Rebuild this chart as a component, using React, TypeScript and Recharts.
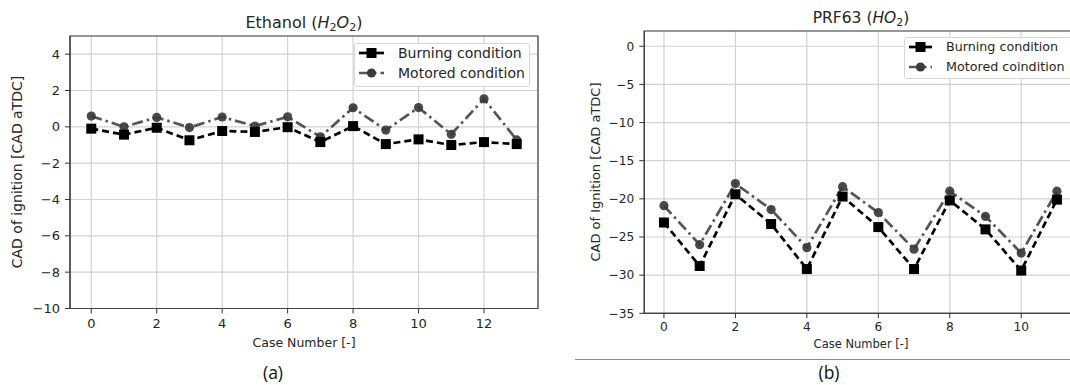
import React from 'react';
import { LineChart, Line, XAxis, YAxis, CartesianGrid, Legend, ReferenceArea } from 'recharts';

const FONT = '"DejaVu Sans", sans-serif';

// ---- Panel (a): Ethanol (H2O2) ----
const casesA = [0, 1, 2, 3, 4, 5, 6, 7, 8, 9, 10, 11, 12, 13];
const burningA = [-0.1, -0.43, -0.05, -0.74, -0.23, -0.28, -0.02, -0.84, 0.04, -0.95, -0.69, -1.0, -0.84, -0.95];
const motoredA = [0.59, 0.0, 0.52, -0.04, 0.54, 0.04, 0.55, -0.55, 1.05, -0.18, 1.06, -0.41, 1.54, -0.72];
const xTicksA = [0, 2, 4, 6, 8, 10, 12];
const yTicksA = [-10, -8, -6, -4, -2, 0, 2, 4];

// ---- Panel (b): PRF63 (HO2) ----
const casesB = [0, 1, 2, 3, 4, 5, 6, 7, 8, 9, 10, 11];
const burningB = [-23.1, -28.8, -19.4, -23.3, -29.2, -19.7, -23.7, -29.2, -20.2, -24.0, -29.4, -20.1];
const motoredB = [-20.9, -26.0, -18.0, -21.4, -26.4, -18.4, -21.8, -26.6, -19.0, -22.3, -27.1, -19.0];
const xTicksB = [0, 2, 4, 6, 8, 10];
const yTicksB = [-35, -30, -25, -20, -15, -10, -5, 0];

const legendA = ['Burning condition', 'Motored condition'];
const legendB = ['Burning condition', 'Motored coindition'];

const dataA = casesA.map((c, i) => ({ x: c, burning: burningA[i], motored: motoredA[i] }));
const dataB = casesB.map((c, i) => ({ x: c, burning: burningB[i], motored: motoredB[i] }));

const fmt = (v: number) => (v < 0 ? '\u2212' + Math.abs(v) : String(v));

const BURN_DASH = '7 4';
const MOT_DASH = '11 4 2.5 4';
const MOT_COLOR = '#555555';
const DOT_COLOR = '#3a3a3a';
const LW = 2.7;

const squareDot = (size: number) => (props: any) => {
  const { cx, cy, index } = props;
  if (cx == null || cy == null) return <g key={`e-${index}`} />;
  return <rect key={`sq-${index}`} x={cx - size / 2} y={cy - size / 2} width={size} height={size} fill="#000" />;
};

const circleDot = (r: number) => (props: any) => {
  const { cx, cy, index } = props;
  if (cx == null || cy == null) return <g key={`e-${index}`} />;
  return <circle key={`c-${index}`} cx={cx} cy={cy} r={r} fill={DOT_COLOR} fillOpacity={0.92} />;
};

type LegendCfg = {
  labels: string[];
  fontSize: number;
  rows: number[];
  lineX: [number, number];
  textX: number;
};

const makeLegend = (cfg: LegendCfg) => () => {
  const mid = (cfg.lineX[0] + cfg.lineX[1]) / 2;
  return (
    <div
      style={{
        position: 'relative',
        boxSizing: 'border-box',
        width: '100%',
        height: '100%',
        background: 'rgba(255,255,255,0.85)',
        border: '1px solid #d6d6d6',
        borderRadius: 3,
        fontFamily: FONT,
        fontSize: cfg.fontSize,
        color: '#262626',
      }}
    >
      {cfg.labels.map((lab, i) => (
        <React.Fragment key={lab}>
          <svg
            width={40}
            height={14}
            style={{ position: 'absolute', left: -1, top: cfg.rows[i] - 8, overflow: 'visible' }}
          >
            {i === 0 ? (
              <>
                <line x1={cfg.lineX[0]} x2={cfg.lineX[1]} y1={7} y2={7} stroke="#000" strokeWidth={LW} />
                <rect x={mid - 5} y={2} width={10} height={10} fill="#000" />
              </>
            ) : (
              <>
                <line x1={cfg.lineX[0]} x2={cfg.lineX[1]} y1={7} y2={7} stroke={MOT_COLOR} strokeWidth={LW} strokeDasharray="11 4 2.5 4" />
                <circle cx={mid} cy={7} r={4.6} fill={DOT_COLOR} />
              </>
            )}
          </svg>
          <span
            style={{
              position: 'absolute',
              left: cfg.textX - 1,
              top: cfg.rows[i] - 1,
              transform: 'translateY(-50%)',
              lineHeight: 1,
              whiteSpace: 'nowrap',
            }}
          >
            {lab}
          </span>
        </React.Fragment>
      ))}
    </div>
  );
};

const Txt = ({ x, y, size, children, rotate, family, color }: any) => (
  <div
    style={{
      position: 'absolute',
      left: x,
      top: y,
      transform: `translate(-50%,-50%)${rotate ? ' rotate(-90deg)' : ''}`,
      fontSize: size,
      fontFamily: family ?? FONT,
      whiteSpace: 'nowrap',
      lineHeight: 1.15,
      color: color ?? '#262626',
    }}
  >
    {children}
  </div>
);

const Sub = ({ children }: any) => (
  <span style={{ fontSize: '0.7em', verticalAlign: '-0.25em', lineHeight: 0, fontStyle: 'normal' }}>{children}</span>
);

type PanelProps = {
  data: any[];
  width: number;
  height: number;
  margin: any;
  yAxisWidth: number;
  xDomain: [number, number];
  yDomain: [number, number];
  xTicks: number[];
  yTicks: number[];
  tickFont: number;
  xTickMargin: number;
  legend: LegendCfg;
  legendBox: { left: number; top: number; width: number; height: number };
};

const Panel = (p: PanelProps) => (
  <LineChart width={p.width} height={p.height} data={p.data} margin={p.margin}>
    <CartesianGrid stroke="#d2d2d2" strokeWidth={1.2} />
    <XAxis
      dataKey="x"
      type="number"
      domain={p.xDomain}
      ticks={p.xTicks}
      allowDataOverflow
      height={30}
      tickFormatter={fmt}
      tick={{ fontSize: p.tickFont, fill: '#262626', fontFamily: FONT }}
      tickSize={5}
      tickMargin={p.xTickMargin}
      tickLine={{ stroke: '#333', strokeWidth: 1 }}
      axisLine={{ stroke: '#444', strokeWidth: 1.2 }}
    />
    <YAxis
      type="number"
      domain={p.yDomain}
      ticks={p.yTicks}
      allowDataOverflow
      width={p.yAxisWidth}
      tickFormatter={fmt}
      tick={{ fontSize: p.tickFont, fill: '#262626', fontFamily: FONT }}
      tickSize={5}
      tickMargin={5}
      tickLine={{ stroke: '#333', strokeWidth: 1 }}
      axisLine={{ stroke: '#444', strokeWidth: 1.2 }}
    />
    <ReferenceArea
      x1={p.xDomain[0]}
      x2={p.xDomain[1]}
      y1={p.yDomain[0]}
      y2={p.yDomain[1]}
      fill="none"
      fillOpacity={0}
      stroke="#444"
      strokeWidth={1.2}
      strokeOpacity={1}
    />
    <Line
      dataKey="motored"
      stroke={MOT_COLOR}
      strokeWidth={LW}
      strokeDasharray={MOT_DASH}
      dot={circleDot(4.6)}
      activeDot={false}
      isAnimationActive={false}
    />
    <Line
      dataKey="burning"
      stroke="#000"
      strokeWidth={LW}
      strokeDasharray={BURN_DASH}
      dot={squareDot(10)}
      activeDot={false}
      isAnimationActive={false}
    />
    <Legend
      layout="vertical"
      align="center"
      verticalAlign="middle"
      content={makeLegend(p.legend)}
      wrapperStyle={{
        left: p.legendBox.left,
        top: p.legendBox.top,
        width: p.legendBox.width,
        height: p.legendBox.height,
        margin: 0,
      }}
    />
  </LineChart>
);

export default function App() {
  return (
    <div
      style={{
        position: 'absolute',
        left: 0,
        top: 0,
        width: 1070,
        height: 385,
        overflow: 'hidden',
        background: '#fff',
      }}
    >
      {/* Panel (a) */}
      <div style={{ position: 'absolute', left: 0, top: 0, width: 560, height: 385 }}>
        <Panel
          data={dataA}
          width={560}
          height={385}
          margin={{ top: 36, right: 22, bottom: 46.5, left: 0 }}
          yAxisWidth={70}
          xDomain={[-0.65, 13.65]}
          yDomain={[-10, 5]}
          xTicks={xTicksA}
          yTicks={yTicksA}
          tickFont={13}
          xTickMargin={5}
          legend={{ labels: legendA, fontSize: 14, rows: [10.3, 30.3], lineX: [5, 30], textX: 44 }}
          legendBox={{ left: 354, top: 43, width: 176, height: 44 }}
        />
      </div>

      {/* Panel (b) */}
      <div style={{ position: 'absolute', left: 560, top: 0, width: 530, height: 385 }}>
        <Panel
          data={dataB}
          width={530}
          height={385}
          margin={{ top: 31, right: 13.4, bottom: 41.7, left: 0 }}
          yAxisWidth={84.3}
          xDomain={[-0.55, 11.55]}
          yDomain={[-35, 2]}
          xTicks={xTicksB}
          yTicks={yTicksB}
          tickFont={12.2}
          xTickMargin={4}
          legend={{ labels: legendB, fontSize: 12.7, rows: [10, 29.4], lineX: [5, 28], textX: 42 }}
          legendBox={{ left: 344, top: 37.3, width: 168, height: 42 }}
        />
      </div>

      {/* Titles */}
      <Txt x={304} y={22.5} size={16}>
        Ethanol (<i>H<Sub>2</Sub>O<Sub>2</Sub></i>)
      </Txt>
      <Txt x={861} y={18.5} size={15.5}>
        PRF63 (<i>HO<Sub>2</Sub></i>)
      </Txt>

      {/* Axis labels */}
      <Txt x={304} y={343} size={12.5}>Case Number [-]</Txt>
      <Txt x={861} y={345} size={11.5}>Case Number [-]</Txt>
      <Txt x={17} y={172} size={14} rotate>CAD of ignition [CAD aTDC]</Txt>
      <Txt x={595.5} y={172} size={13} rotate>CAD of Ignition [CAD aTDC]</Txt>

      {/* Sub-figure captions */}
      <Txt x={273} y={372} size={17.5} family='"Open Sans", "Lato", sans-serif' color="#111">(a)</Txt>
      <Txt x={829} y={372} size={17.5} family='"Open Sans", "Lato", sans-serif' color="#111">(b)</Txt>
      <div style={{ position: 'absolute', left: 575, top: 359, width: 500, height: 1, background: '#8a8a8a' }} />
    </div>
  );
}
